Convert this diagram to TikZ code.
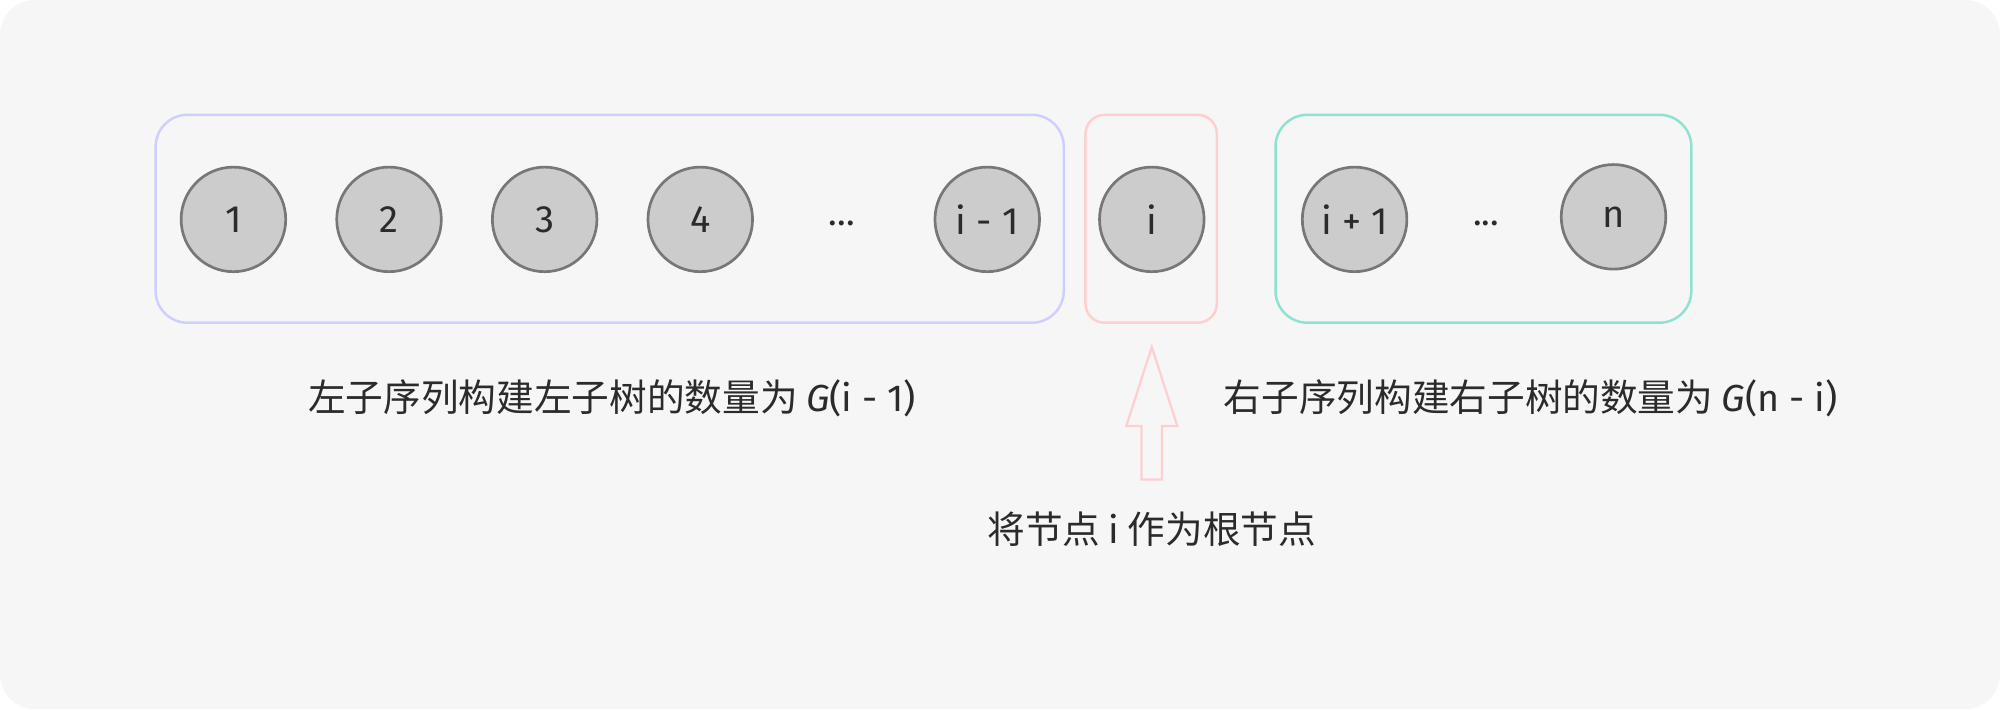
\documentclass[tikz,border=0pt]{standalone}
\usepackage{fontspec}
\setmainfont{Noto Sans CJK SC}
\newfontfamily\latfont{Fira Sans}
\newfontfamily\numfont{Fira Sans Medium}
\definecolor{bgc}{HTML}{F6F6F6}
\definecolor{lav}{HTML}{CFCFFF}
\definecolor{pinkc}{HTML}{FFCFCF}
\definecolor{tealc}{HTML}{8EE2D2}
\definecolor{cfill}{HTML}{CCCCCC}
\definecolor{cdraw}{HTML}{777777}
\definecolor{txt}{HTML}{2B2B2B}
\tikzset{
  numnode/.style={circle, draw=cdraw, fill=cfill, line width=1.2pt, minimum size=1.64cm, inner sep=0pt, font=\latfont\fontsize{17}{20}\selectfont, text=txt},
  dotsnode/.style={font=\latfont\fontsize{16}{18}\selectfont, text=txt},
  groupbox/.style={rounded corners=0.5cm, line width=1.1pt},
  caption/.style={font=\fontsize{16.8}{20}\selectfont, text=txt, inner sep=0pt}
}
\begin{document}
\begin{tikzpicture}[x=0.02cm,y=-0.02cm]
\useasboundingbox (0,0) rectangle (1568,556);
\fill[white] (0,0) rectangle (1568,556);
\fill[bgc, rounded corners=0.55cm] (0,0) rectangle (1568,556);
% group boxes
\draw[groupbox, draw=lav] (122,90) rectangle (834,253);
\draw[groupbox, draw=pinkc, rounded corners=0.3cm] (851,90) rectangle (954,253);
\draw[groupbox, draw=tealc] (1000,90) rectangle (1326,253);
% nodes
\node[numnode] (n1) at (183,172) {1};
\node[numnode] (n2) at (305,172) {2};
\node[numnode] (n3) at (427,172) {3};
\node[numnode] (n4) at (549,172) {4};
\node[dotsnode] (d1) at (660,175) {...};
\node[numnode] (nim1) at (774,172) {i - 1};
\node[numnode] (ni) at (903,172) {i};
\node[numnode] (nip1) at (1062,172) {i + 1};
\node[dotsnode] (d2) at (1165,175) {...};
\node[numnode] (nn) at (1265,170) {n};
% hollow arrow
\draw[pinkc, line width=1.0pt, line join=miter]
  (903,272) -- (923,334) -- (911,334) -- (911,376) -- (895,376) -- (895,334) -- (883,334) -- cycle;
% captions
\node[caption] (cl) at (480,312) {左子序列构建左子树的数量为 {\latfont\itshape G}{\latfont(i - 1)}};
\node[caption] (cr) at (1200,312) {右子序列构建右子树的数量为 {\latfont\itshape G}{\latfont(n - i)}};
\node[caption] (cm) at (903,415) {将节点 {\latfont i} 作为根节点};
\end{tikzpicture}
\end{document}
